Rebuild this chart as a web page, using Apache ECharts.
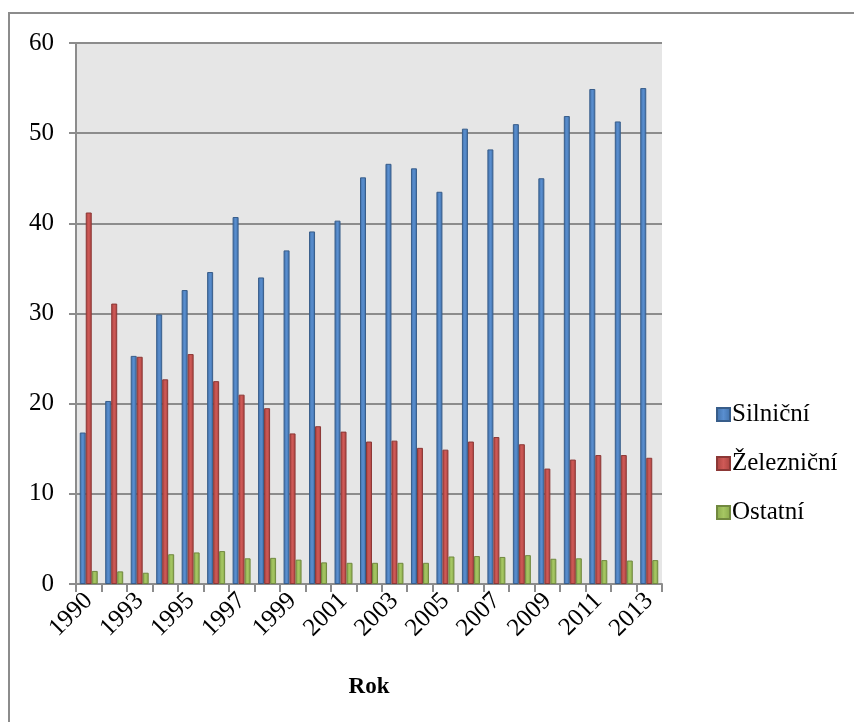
<!DOCTYPE html>
<html>
<head>
<meta charset="utf-8">
<script src="https://cdn.jsdelivr.net/npm/echarts@6/dist/echarts.min.js"></script>
<style>
  html, body { margin: 0; padding: 0; background: #fff; }
  #chart { width: 854px; height: 722px; }
</style>
</head>
<body>
<div id="chart"></div>
<script>
const years = ['1990', '1992', '1993', '1994', '1995', '1996', '1997', '1998', '1999', '2000', '2001', '2002',
  '2003', '2004', '2005', '2006', '2007', '2008', '2009', '2010', '2011', '2012', '2013']
const silnicni = [16.8, 20.3, 25.3, 29.9, 32.6, 34.6, 40.7, 34.0, 37.0, 39.1, 40.3, 45.1,
  46.6, 46.1, 43.5, 50.5, 48.2, 51.0, 45.0, 51.9, 54.9, 51.3, 55.0]
const zeleznicni = [41.2, 31.1, 25.2, 22.7, 25.5, 22.5, 21.0, 19.5, 16.7, 17.5, 16.9, 15.8,
  15.9, 15.1, 14.9, 15.8, 16.3, 15.5, 12.8, 13.8, 14.3, 14.3, 14.0]
const ostatni = [1.45, 1.4, 1.25, 3.3, 3.5, 3.65, 2.85, 2.9, 2.7, 2.4, 2.35, 2.35,
  2.35, 2.35, 3.05, 3.1, 3.0, 3.2, 2.8, 2.85, 2.65, 2.6, 2.65]
const yTicks = [0, 10, 20, 30, 40, 50, 60]

const font = '"Liberation Serif", "Times New Roman", serif'
const myCharts = echarts.init(document.getElementById('chart'))

function barGrad(edge, mid) {
  return new echarts.graphic.LinearGradient(0, 0, 1, 0, [
    {offset: 0, color: edge},
    {offset: 0.5, color: mid},
    {offset: 1, color: edge}
  ])
}

let option = {
  animation: false,
  backgroundColor: '#fff',
  graphic: [
    {
      type: 'rect',
      shape: {x: 9, y: 13, width: 900, height: 800},
      style: {fill: 'none', stroke: '#8c8c8c', lineWidth: 2},
      z: -1
    }
  ],
  grid: {
    left: 76,
    right: 192,
    top: 43,
    bottom: 138,
    show: true,
    backgroundColor: '#e6e6e6',
    borderWidth: 0
  },
  legend: {
    orient: 'vertical',
    left: 711,
    top: 397,
    itemWidth: 13,
    itemHeight: 13,
    itemGap: 24,
    icon: 'rect',
    textStyle: {fontFamily: font, fontSize: 25, color: '#000', padding: [0, 0, 0, -3]},
    data: ['Silniční', 'Železniční', 'Ostatní']
  },
  xAxis: {
    type: 'category',
    data: years,
    name: 'Rok',
    nameLocation: 'middle',
    nameGap: 92,
    nameTextStyle: {fontFamily: font, fontSize: 23, fontWeight: 'bold', color: '#000'},
    axisLine: {lineStyle: {color: '#8c8c8c', width: 2}},
    axisTick: {show: true, length: 8, interval: 0, lineStyle: {color: '#8c8c8c', width: 2}},
    axisLabel: {
      interval: 1,
      rotate: 45,
      fontFamily: font,
      fontSize: 25,
      color: '#000',
      margin: 13
    }
  },
  yAxis: {
    type: 'value',
    min: 0,
    max: 60,
    interval: 10,
    axisLine: {show: true, lineStyle: {color: '#8c8c8c', width: 2}},
    axisTick: {show: true, length: 7, lineStyle: {color: '#8c8c8c', width: 2}},
    axisLabel: {
      fontFamily: font,
      fontSize: 25,
      color: '#000',
      margin: 22,
      formatter: v => yTicks.includes(v) ? String(v) : ''
    },
    splitLine: {lineStyle: {color: '#8c8c8c', width: 2}}
  },
  series: [
    {
      name: 'Silniční',
      type: 'bar',
      barWidth: 6,
      barGap: '0%',
      color: '#4f81bd',
      itemStyle: {color: barGrad('#3f6fa8', '#5a8fd0'), borderColor: '#385d8a', borderWidth: 1},
      data: silnicni
    },
    {
      name: 'Železniční',
      type: 'bar',
      barWidth: 6,
      barGap: '0%',
      color: '#c0504d',
      itemStyle: {color: barGrad('#a8413e', '#cf5a57'), borderColor: '#8c3836', borderWidth: 1},
      data: zeleznicni
    },
    {
      name: 'Ostatní',
      type: 'bar',
      barWidth: 6,
      barGap: '0%',
      color: '#9bbb59',
      itemStyle: {color: barGrad('#88a84a', '#a6c763'), borderColor: '#71893f', borderWidth: 1},
      data: ostatni
    }
  ]
}
myCharts.setOption(option)
</script>
</body>
</html>
